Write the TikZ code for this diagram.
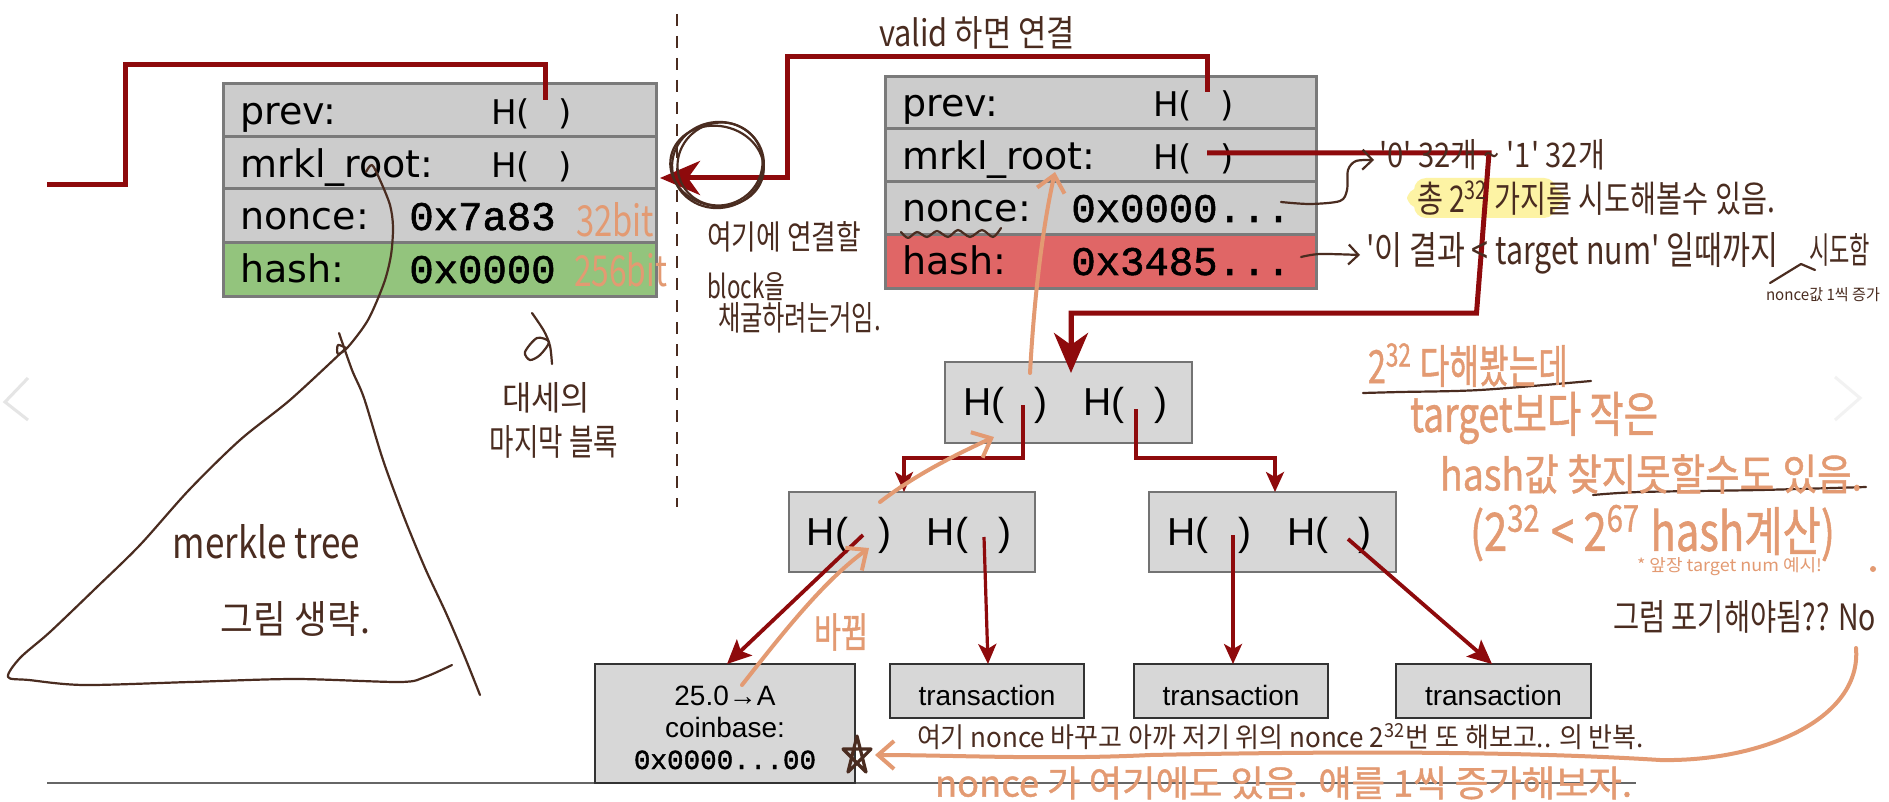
\documentclass[tikz,border=0pt]{standalone}
\usepackage{fontspec}
\usepackage{graphicx}
\usetikzlibrary{arrows.meta,calc}
\setmainfont{Liberation Sans}
\newfontfamily\hnd{Noto Sans CJK KR}
\newfontfamily\hndb{Noto Sans CJK KR}[FakeBold=1.2]
\newfontfamily\blk{DejaVu Sans}
\newfontfamily\mon{Liberation Mono}[FakeBold=1.4]
\definecolor{dred}{HTML}{8E0A0C}
\definecolor{brn}{HTML}{4A2C20}
\definecolor{org}{HTML}{E39A72}
\definecolor{hl}{HTML}{FDF3A4}
\definecolor{blockgray}{HTML}{CCCCCC}
\definecolor{treegray}{HTML}{D7D7D7}
\definecolor{okgreen}{HTML}{93C47D}
\definecolor{badred}{HTML}{E06666}
\tikzset{
  blockrow/.style={draw=black!52,line width=1.5pt,fill=blockgray,inner sep=0pt,outer sep=0pt},
  treebox/.style={draw=black!55,line width=1pt,fill=treegray,inner sep=0pt,outer sep=0pt,font=\fontsize{19.5}{22}\selectfont},
  leafbox/.style={draw=black!80,line width=0.9pt,fill=treegray,inner sep=0pt,outer sep=0pt,font=\fontsize{14}{16}\selectfont},
  lbl/.style={anchor=base west,inner sep=0pt,font=\blk\fontsize{19}{22}\selectfont},
  hlbl/.style={anchor=base west,inner sep=0pt,font=\blk\fontsize{17}{20}\selectfont},
  mono/.style={anchor=base west,inner sep=0pt,font=\mon\fontsize{20.3}{22}\selectfont},
  mainline/.style={draw=dred,line width=2.5pt},
  mainarrow/.style={draw=dred,line width=2.5pt,-{Stealth[length=20pt,width=17pt,inset=6pt]}},
  thinline/.style={draw=dred,line width=1.6pt,-{Stealth[length=10pt,width=9pt,inset=2.5pt]}},
  orgarrow/.style={draw=org,line width=2pt,line cap=round,-{Straight Barb[length=8pt,width=14pt,line width=2pt]}},
  brnline/.style={draw=brn,line width=1.1pt,line cap=round,line join=round},
  brnarrow/.style={brnline,-{Straight Barb[length=5pt,width=10pt,line width=1.1pt]}},
  handtext/.style={inner sep=0pt,font=\hnd},
}
% \hw{name}{colour}{x1}{x2}{y centre}{height}{text}
\newcommand{\hw}[7]{\node[handtext,text=#2] (#1) at ({(#3+#4)/2},#5) {\resizebox{\dimexpr(#4pt-#3pt)/2\relax}{\dimexpr#6pt/2\relax}{#7}};}
% \rowbox{name}{x1}{y1}{x2}{y2}{style}{text}
\newcommand{\rowbox}[7]{\node[#6,minimum width={(#4-#2)*0.5pt},minimum height={(#5-#3)*0.5pt}] (#1) at ({(#2+#4)/2},{(#3+#5)/2}) {#7};}
\newcommand{\twoH}{\raisebox{-6.6pt}[0pt][0pt]{H(\hspace{15pt})\hspace{18pt}H(\hspace{15pt})\hspace{3pt}}}
\newcommand{\txn}{\raisebox{-7pt}[0pt][0pt]{transaction}}
\begin{document}
\begin{tikzpicture}[x=0.5pt,y=-0.5pt]
\useasboundingbox (0,0) rectangle (1889,802);
\fill[white] (0,0) rectangle (1889,802);
% page chrome
\draw[black!10,line width=1.5pt] (28,378) -- (5,402) -- (28,420);
\draw[black!5,line width=1.5pt] (1835,377) -- (1860,398) -- (1835,420);
\coordinate (ruleL) at (47,783);
\coordinate (ruleR) at (1636,783);
\draw[black!60,line width=1.1pt] (ruleL) -- (ruleR);
\draw[brn,line width=1.2pt,dash pattern=on 6pt off 5pt] (677,14) -- (677,507);
% left block
\rowbox{la}{223}{84}{656}{137}{blockrow}{}
\rowbox{lb}{223}{137}{656}{189}{blockrow}{}
\rowbox{lc}{223}{189}{656}{243}{blockrow}{}
\rowbox{ld}{223}{243}{656}{296}{blockrow,fill=okgreen}{}
\node[lbl] (l1) at (240,125) {prev:};
\node[lbl] (l2) at (240,178) {mrkl\_root:};
\node[lbl] (l3) at (240,230) {nonce:};
\node[lbl] (l4) at (240,283) {hash:};
\node[hlbl] (l1h) at (491,125) {H(\hspace{14pt})};
\node[hlbl] (l2h) at (491,178) {H(\hspace{14pt})};
\node[mono] (l3v) at (409,230) {0x7a83};
\node[mono] (l4v) at (409,283) {0x0000};
% right block
\rowbox{ra}{885}{77}{1316}{129}{blockrow}{}
\rowbox{rb}{885}{129}{1316}{182}{blockrow}{}
\rowbox{rc}{885}{182}{1316}{235}{blockrow}{}
\rowbox{rd}{885}{235}{1316}{288}{blockrow,fill=badred}{}
\node[lbl] (r1) at (902,117) {prev:};
\node[lbl] (r2) at (902,170) {mrkl\_root:};
\node[lbl] (r3) at (902,222) {nonce:};
\node[lbl] (r4) at (902,275) {hash:};
\node[hlbl] (r1h) at (1153,117) {H(\hspace{14pt})};
\node[hlbl] (r2h) at (1153,170) {H(\hspace{14pt})};
\node[mono] (r3v) at (1071,222) {0x0000...};
\node[mono] (r4v) at (1071,275) {0x3485...};
% merkle tree boxes
\rowbox{top}{945}{362}{1192}{443}{treebox}{\twoH}
\rowbox{m1}{789}{492}{1035}{572}{treebox}{\twoH}
\rowbox{m2}{1149}{492}{1396}{572}{treebox}{\twoH}
\rowbox{cb}{595}{664}{855}{783}{leafbox}{}
\rowbox{t1}{890}{664}{1084}{718}{leafbox}{\txn}
\rowbox{t2}{1134}{664}{1328}{718}{leafbox}{\txn}
\rowbox{t3}{1396}{664}{1591}{718}{leafbox}{\txn}
\node[inner sep=0pt,anchor=base,font=\fontsize{14}{16}\selectfont] (cb1) at (725,705) {25.0→A};
\node[inner sep=0pt,anchor=base,font=\fontsize{14}{16}\selectfont] (cb2) at (725,737) {coinbase:};
\node[inner sep=0pt,anchor=base,font=\mon\fontsize{13.8}{16}\selectfont] (cb3) at (725,769) {0x0000...00};
% highlight
\fill[hl,rounded corners=6pt] (1414,178) rectangle (1556,218);
\fill[hl,rounded corners=6pt] (1407,188) rectangle (1564,208);
% connectors
\coordinate (lp) at (545,100);
\coordinate (lfree) at (47,185);
\coordinate (rp) at (1207,92);
\coordinate (rtipy) at (0,178);
\coordinate (rm) at (1207,153);
\coordinate (toptip) at (1071,373);
\draw[mainline] (lp) |- (125,65) |- (lfree);
\draw[mainarrow] (rp) |- (787,57) |- ($(lb.east |- rtipy)+(4,0)$);
\draw[mainline] (rm) -- (1489,153) -- (1476.5,313) -- (1071,313) -- (1071,345);
\draw[mainarrow] (1071,313) -- (toptip);
\coordinate (ta) at (1023,405);
\coordinate (tb) at (1136,409);
\coordinate (ma) at (863,535);
\coordinate (mb) at (984,537);
\coordinate (mc) at (1233,535);
\coordinate (md) at (1348,539);
\coordinate (x1) at (904,0);
\coordinate (x2) at (1275,0);
\coordinate (x3) at (727,0);
\coordinate (x4) at (988,0);
\coordinate (x5) at (1233,0);
\coordinate (x6) at (1492,0);
\draw[thinline] (ta) |- (904,458) -- (x1 |- m1.north);
\draw[thinline] (tb) |- (1275,458) -- (x2 |- m2.north);
\draw[thinline,line width=1.9pt,-{Stealth[length=12pt,width=11pt,inset=2.5pt]}] (ma) -- (x3 |- cb.north);
\draw[thinline] (mb) -- (x4 |- t1.north);
\draw[thinline] (mc) -- (x5 |- t2.north);
\draw[thinline,line width=1.9pt,-{Stealth[length=12pt,width=11pt,inset=2.5pt]}] (md) -- (x6 |- t3.north);
% orange arrows
\draw[orgarrow] (1030,373) .. controls (1034,300) and (1042,230) .. (1055,172);
\draw[orgarrow] (880,502) .. controls (915,475) and (955,455) .. (994,437);
\draw[orgarrow] (742,685) .. controls (785,630) and (825,580) .. (869,548);
\draw[orgarrow] (1856,648) .. controls (1862,720) and (1760,762) .. (1660,760) .. controls (1500,750) and (1300,752) .. (1150,755) .. controls (1050,760) and (950,755) .. (875,755);
% brown sketch lines
\draw[brnline,rotate around={10:(718,165)}] (718,165) ellipse [x radius=46,y radius=43];
\draw[brnline,rotate around={-12:(717,166)}] (717,166) ellipse [x radius=47,y radius=40];
\draw[brnline,rotate around={30:(720,164)}] (720,164) ellipse [x radius=43,y radius=41];
\draw[brnline] plot[smooth] coordinates {(901,232) (908,238) (917,232) (927,237) (937,231) (948,237) (958,230) (970,237) (982,230) (993,237) (1001,228)};
\draw[brnarrow] plot[smooth] coordinates {(1281,202) (1310,204) (1340,201) (1347,190) (1348,170) (1356,161) (1374,160)};
\draw[brnarrow] plot[smooth] coordinates {(1301,257) (1320,254) (1360,255)};
\draw[brnline] (1770,283) -- (1801,264) -- (1815,270);
\draw[brnline] plot[smooth] coordinates {(1363,393) (1400,392) (1480,390) (1591,381)};
\draw[brnline] plot[smooth] coordinates {(1593,495) (1640,492) (1760,490) (1866,487)};
% merkle triangle and pointer
\draw[brnline] plot[smooth] coordinates {(339,333) (352,370) (364,398) (383,460) (404,517) (425,568) (446,613) (464,655) (480,695)};
\draw[brnline] plot[smooth] coordinates {(344,350) (290,400) (240,440) (189,490) (140,545) (97,587) (50,632) (20,658) (8,677) (29,680) (84,685) (190,682) (295,679) (400,682) (425,677) (452,665)};
\draw[brnline] plot[smooth] coordinates {(366,172) (372,165) (380,180) (390,205) (393,227) (391,255) (384,283) (368,320) (348,347) (338,354) (338,345) (346,348)};
\draw[brnline] plot[smooth] coordinates {(532,313) (544,331) (550,346) (552,364)};
\draw[brnline] plot[smooth cycle] coordinates {(549,342) (537,338) (525,352) (530,360) (540,355)};
% star
\draw[brnline,line width=1.6pt] (857,736) -- (848,772) -- (871,749) -- (843,749) -- (866,772) -- cycle;
% handwritten text
\hw{bit32}{org}{576}{654}{220}{34}{32bit}
\hw{bit256}{org}{574}{667}{270}{34}{256bit}
\hw{valid}{brn}{879}{1075}{33}{30}{valid 하면 연결}
\hw{here1}{brn}{707}{861}{237}{28}{여기에 연결할}
\hw{here2}{brn}{707}{785}{287}{26}{block을}
\hw{here3}{brn}{718}{881}{318}{28}{채굴하려는거임.}
\hw{last1}{brn}{502}{590}{398}{28}{대세의}
\hw{last2}{brn}{490}{618}{442}{30}{마지막 블록}
\hw{mt1}{brn}{173}{360}{542}{34}{merkle tree}
\hw{mt2}{brn}{221}{370}{619}{32}{그림 생략.}
\hw{n1}{brn}{1379}{1605}{155}{28}{'0' 32개 \textasciitilde{} '1' 32개}
\hw{n2}{brn}{1417}{1775}{198}{32}{총 2\textsuperscript{32} 가지를 시도해볼수 있음.}
\hw{n3}{brn}{1366}{1778}{253}{32}{'이 결과 < target num' 일때까지}
\hw{n4}{brn}{1809}{1870}{250}{30}{시도함}
\hw{n5}{brn}{1766}{1880}{295}{13}{nonce값 1씩 증가}
\hw{o1}{org}{1368}{1568}{365}{40}{\hndb 2\textsuperscript{32} 다해봤는데}
\hw{o2}{org}{1410}{1658}{418}{40}{\hndb target보다 작은}
\hw{o3}{org}{1440}{1862}{474}{36}{\hndb hash값 찾지못할수도 있음.}
\hw{o4}{org}{1470}{1835}{533}{46}{\hndb (2\textsuperscript{32} < 2\textsuperscript{67} hash계산)}
\hw{o5}{org}{1637}{1822}{567}{14}{* 앞장 target num 예시!}
\fill[org] (1873,569) circle (3);
\hw{give}{brn}{1613}{1876}{617}{30}{그럼 포기해야됨?? No}
\hw{chg}{org}{814}{868}{632}{34}{\hndb 바뀜}
\hw{rep}{brn}{917}{1644}{737}{24}{여기 nonce 바꾸고 아까 저기 위의 nonce 2\textsuperscript{32}번 또 해보고.. 의 반복.}
\hw{also}{org}{935}{1632}{783}{30}{\hndb nonce 가 여기에도 있음. 얘를 1씩 증가해보자.}
\end{tikzpicture}
\end{document}
